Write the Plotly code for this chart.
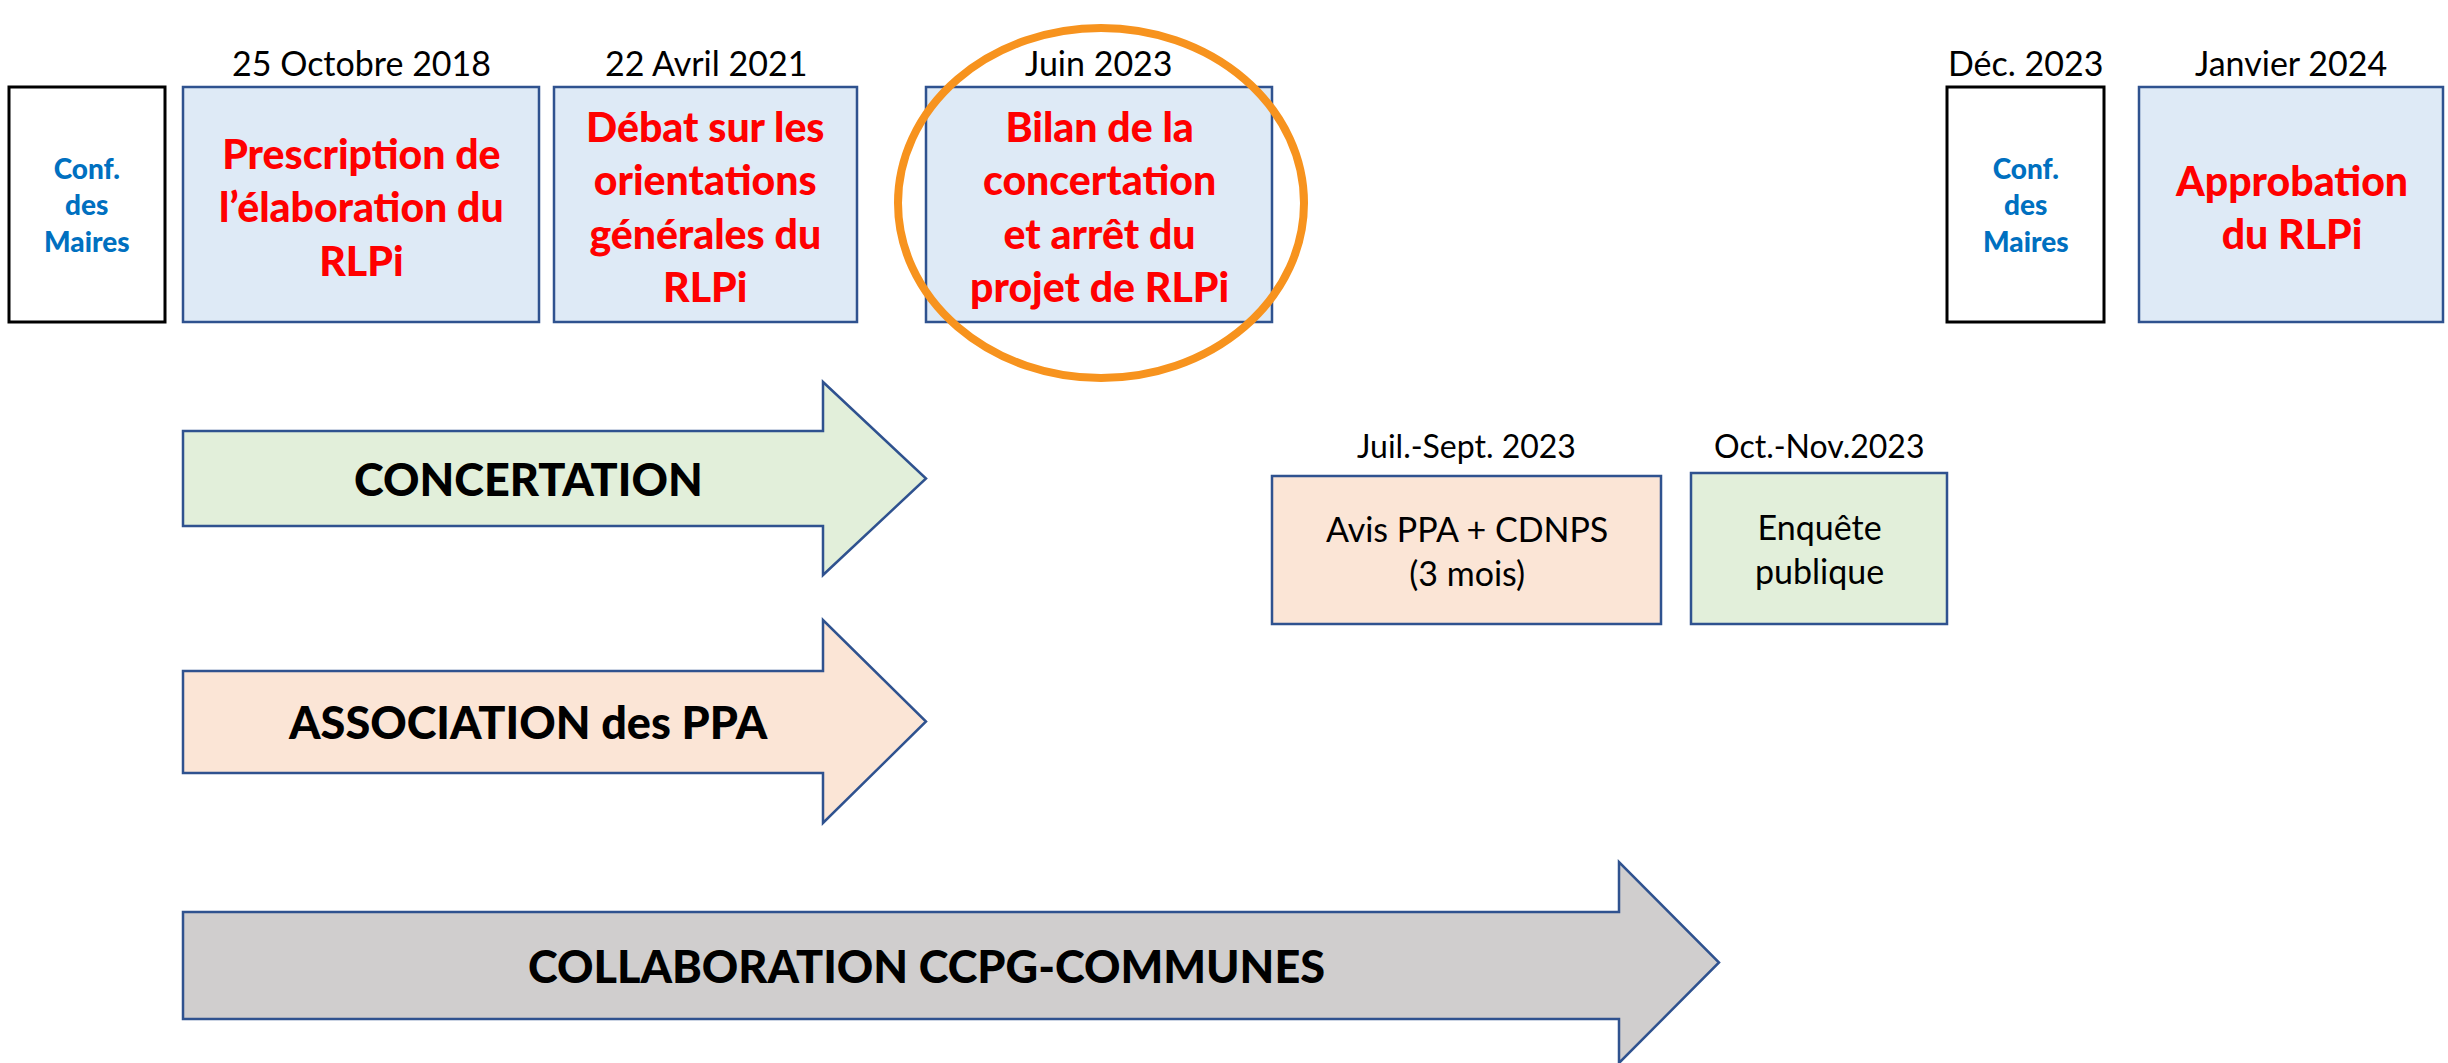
import plotly.graph_objects as go

# ---------------- data ----------------
milestone_dates = ["", "25 Octobre 2018", "22 Avril 2021", "Juin 2023", "Déc. 2023", "Janvier 2024"]
milestone_texts = [
    "Conf.<br>des<br>Maires",
    "Prescription de<br>l’élaboration du<br>RLPi",
    "Débat sur les<br>orientations<br>générales du<br>RLPi",
    "Bilan de la<br>concertation<br>et arrêt du<br>projet de RLPi",
    "Conf.<br>des<br>Maires",
    "Approbation<br>du RLPi",
]
milestone_kinds = ["conf", "step", "step", "step", "conf", "step"]
highlighted = "Juin 2023"

phase_labels = ["CONCERTATION", "ASSOCIATION des PPA", "COLLABORATION CCPG-COMMUNES"]
consult_dates = ["Juil.-Sept. 2023", "Oct.-Nov.2023"]
consult_texts = ["Avis PPA + CDNPS<br>(3 mois)", "Enquête<br>publique"]

# ---------------- layout / style ----------------
W, H = 2448, 1063
box_x = [(9, 165), (183, 539), (554, 857), (926, 1272), (1947, 2104), (2139, 2443)]
box_y = (87, 322)
date_y = 62

phase_geom = [  # x0, x_body_end, x_tip, body y0, body y1, head y0, head y1
    (183, 823, 926, 431, 526, 382, 575),
    (183, 823, 926, 671, 773, 620, 823),
    (183, 1619, 1719, 912, 1019, 862, 1063),
]
phase_fill = ["#E2EFDA", "#FBE5D6", "#D0CECE"]
phase_text_x = [528, 528, 926]

consult_x = [(1272, 1661), (1691, 1947)]
consult_y = [(476, 624), (473, 624)]
consult_fill = ["#FBE5D6", "#E2EFDA"]
consult_date_y = 445

ellipse = (898, 1304, 28, 378)

BLUE_LINE = "#2F528F"
STEP_FILL = "#DEEAF6"
RED = "#FF0000"
CONF_BLUE = "#0070C0"
ORANGE = "#F7931E"
FONT = "Lato"

fig = go.Figure()
shapes = []
annotations = []

for i, (date, text, kind) in enumerate(zip(milestone_dates, milestone_texts, milestone_kinds)):
    x0, x1 = box_x[i]
    if kind == "conf":
        shapes.append(dict(type="rect", x0=x0, x1=x1, y0=box_y[0], y1=box_y[1],
                           fillcolor="white", line=dict(color="black", width=3), layer="below"))
        annotations.append(dict(x=(x0 + x1) / 2, y=(box_y[0] + box_y[1]) / 2, text=text,
                                showarrow=False, xanchor="center", yanchor="middle",
                                font=dict(family=FONT, size=28, color=CONF_BLUE, weight=900)))
    else:
        shapes.append(dict(type="rect", x0=x0, x1=x1, y0=box_y[0], y1=box_y[1],
                           fillcolor=STEP_FILL, line=dict(color=BLUE_LINE, width=2.5), layer="below"))
        annotations.append(dict(x=(x0 + x1) / 2, y=(box_y[0] + box_y[1]) / 2 + 2, text=text,
                                showarrow=False, xanchor="center", yanchor="middle",
                                font=dict(family=FONT, size=41, color=RED, weight=900)))
    if date:
        annotations.append(dict(x=(x0 + x1) / 2, y=date_y, text=date, showarrow=False,
                                xanchor="center", yanchor="middle",
                                font=dict(family=FONT, size=34, color="black")))
    if date == highlighted:
        ex0, ex1, ey0, ey1 = ellipse
        shapes.append(dict(type="circle", x0=ex0, x1=ex1, y0=ey0, y1=ey1,
                           line=dict(color=ORANGE, width=8), fillcolor="rgba(0,0,0,0)"))

for label, g, fill, tx in zip(phase_labels, phase_geom, phase_fill, phase_text_x):
    x0, xb, xt, by0, by1, hy0, hy1 = g
    path = (f"M {x0},{by0} L {xb},{by0} L {xb},{hy0} L {xt},{(hy0 + hy1) / 2} "
            f"L {xb},{hy1} L {xb},{by1} L {x0},{by1} Z")
    shapes.append(dict(type="path", path=path, fillcolor=fill,
                       line=dict(color=BLUE_LINE, width=2.5), layer="below"))
    annotations.append(dict(x=tx, y=(by0 + by1) / 2, text=label, showarrow=False,
                            xanchor="center", yanchor="middle",
                            font=dict(family=FONT, size=45, color="black", weight=900)))

for date, text, (x0, x1), (y0, y1), fill in zip(consult_dates, consult_texts, consult_x, consult_y, consult_fill):
    shapes.append(dict(type="rect", x0=x0, x1=x1, y0=y0, y1=y1, fillcolor=fill,
                       line=dict(color=BLUE_LINE, width=2.5), layer="below"))
    annotations.append(dict(x=(x0 + x1) / 2, y=(y0 + y1) / 2, text=text, showarrow=False,
                            xanchor="center", yanchor="middle",
                            font=dict(family=FONT, size=34, color="black")))
    annotations.append(dict(x=(x0 + x1) / 2, y=consult_date_y, text=date, showarrow=False,
                            xanchor="center", yanchor="middle",
                            font=dict(family=FONT, size=32, color="black")))

fig.update_layout(
    width=W, height=H,
    margin=dict(l=0, r=0, t=0, b=0),
    paper_bgcolor="white", plot_bgcolor="white",
    xaxis=dict(range=[0, W], visible=False, fixedrange=True),
    yaxis=dict(range=[H, 0], visible=False, fixedrange=True),
    shapes=shapes, annotations=annotations, showlegend=False,
)

fig.write_html("out.html", config={"displayModeBar": False},
               post_script="document.body.style.margin='0';document.body.style.overflow='hidden';")
